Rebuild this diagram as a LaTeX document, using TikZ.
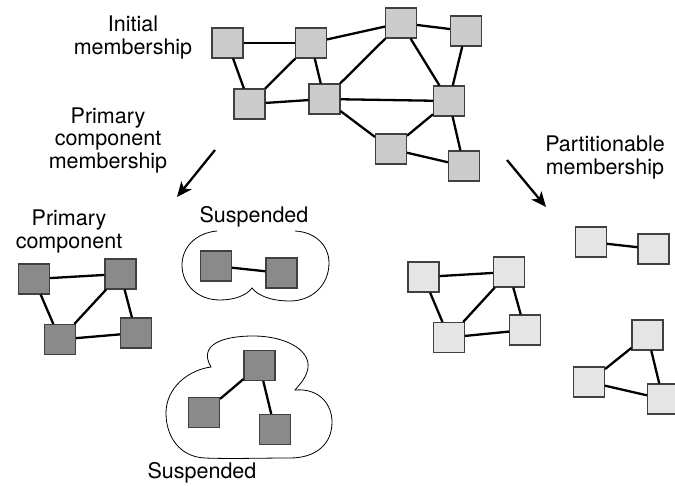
\documentclass[tikz,border=0pt]{standalone}
\usepackage{fontspec}
\setmainfont{TeX Gyre Heros}
\usetikzlibrary{arrows.meta}
\begin{document}
\begin{tikzpicture}[x=1pt,y=-1pt,
  member/.style={rectangle,minimum width=31pt,minimum height=30pt,inner sep=0pt,
                 draw=black!75,line width=1.1pt},
  initbox/.style={member,fill=black!20},
  primbox/.style={member,fill=black!46},
  partbox/.style={member,fill=black!10},
  link/.style={line width=2.3pt,black},
  group/.style={line width=0.8pt,black},
  flow/.style={line width=2.3pt,-{Stealth[length=15pt,width=13pt,inset=4pt]}},
  caption/.style={font=\fontsize{21.5}{22.5}\selectfont,align=center,inner sep=0pt,anchor=base}]
\useasboundingbox (0,0) rectangle (675,485);

% --- initial membership graph ---
\node[initbox] (a) at (227.5,43) {};
\node[initbox] (b) at (311,43) {};
\node[initbox] (c) at (249.5,104) {};
\node[initbox] (d) at (324.5,99) {};
\node[initbox] (e) at (401,23) {};
\node[initbox] (f) at (466,31) {};
\node[initbox] (g) at (449,101) {};
\node[initbox] (h) at (391,149) {};
\node[initbox] (i) at (464,166) {};
\foreach \u/\v in {a/b,a/c,b/c,b/d,b/e,c/d,e/d,e/f,e/g,f/g,d/g,d/h,g/h,g/i,h/i}
  \draw[link] (\u) -- (\v);

% captions: the base anchor sits on the last line's baseline
\node[caption] (capinit) at (133,54) {Initial\\membership};
\node[caption] (capprim) at (108,168) {Primary\\component\\membership};
\node[caption] (cappart) at (605,174) {Partitionable\\membership};

% --- transition arrows ---
\coordinate (la1) at (215,150);
\coordinate (la2) at (177,197);
\coordinate (ra1) at (507,160);
\coordinate (ra2) at (546,207);
\draw[flow] (la1) -- (la2);
\draw[flow] (ra1) -- (ra2);

% --- primary component ---
\node[primbox] (p1) at (34,279) {};
\node[primbox] (p2) at (120.5,274) {};
\node[primbox] (p3) at (60,339.5) {};
\node[primbox] (p4) at (136,333) {};
\foreach \u/\v in {p1/p2,p1/p3,p2/p3,p2/p4,p3/p4}
  \draw[link] (\u) -- (\v);
\node[caption] (capcomp) at (69,248) {Primary\\component};

% --- suspended members ---
\node[primbox] (s1) at (216,266) {};
\node[primbox] (s2) at (281.5,273) {};
\draw[link] (s1) -- (s2);
\draw[group] (217,231) .. controls (195,233) and (182,248) .. (182,265)
  .. controls (182,285) and (198,300) .. (220,300)
  .. controls (235,300) and (247,295) .. (252,288)
  .. controls (258,296) and (272,301) .. (290,301)
  .. controls (312,301) and (329,285) .. (329,263)
  .. controls (329,245) and (315,232) .. (295,231);
\node[caption] (capsusa) at (254,222) {Suspended};

\node[primbox] (t1) at (259.5,365.5) {};
\node[primbox] (t2) at (204,412.5) {};
\node[primbox] (t3) at (275,429.5) {};
\draw[link] (t1) -- (t2);
\draw[link] (t1) -- (t3);
\draw[group] (211,367) .. controls (198,345) and (222,336) .. (253,336)
  .. controls (288,336) and (314,352) .. (307,372)
  .. controls (304,381) and (298,386) .. (295,390)
  .. controls (320,388) and (332,405) .. (332,422)
  .. controls (332,445) and (315,458) .. (290,458)
  .. controls (260,458) and (230,459) .. (205,458)
  .. controls (180,457) and (166,437) .. (166,413)
  .. controls (166,388) and (188,370) .. (211,367) -- cycle;
\node[caption] (capsusb) at (202,478) {Suspended};

% --- partitionable membership ---
\node[partbox] (q1) at (423.5,277) {};
\node[partbox] (q2) at (509,272) {};
\node[partbox] (q3) at (449,337.5) {};
\node[partbox] (q4) at (525,330) {};
\foreach \u/\v in {q1/q2,q1/q3,q2/q3,q2/q4,q3/q4}
  \draw[link] (\u) -- (\v);

\node[partbox] (r1) at (591,242) {};
\node[partbox] (r2) at (653.5,249) {};
\draw[link] (r1) -- (r2);

\node[partbox] (u1) at (647.5,335) {};
\node[partbox] (u2) at (589,382) {};
\node[partbox] (u3) at (663,399) {};
\foreach \u/\v in {u1/u2,u2/u3,u1/u3}
  \draw[link] (\u) -- (\v);
\end{tikzpicture}
\end{document}
